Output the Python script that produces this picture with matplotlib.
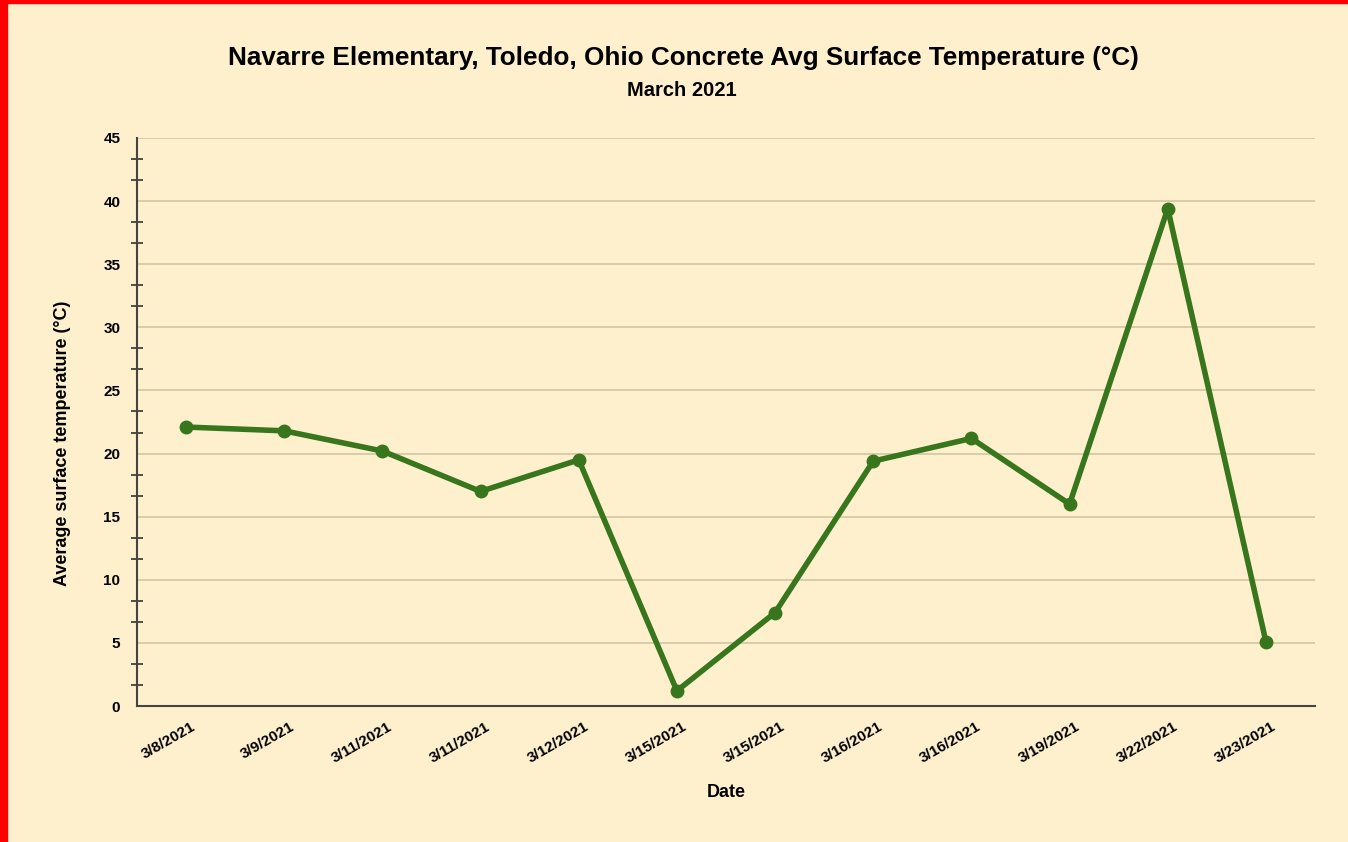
import numpy as np
import matplotlib.pyplot as plt
import matplotlib.transforms as mtransforms
from matplotlib.patches import Rectangle
from matplotlib.ticker import MultipleLocator

plt.rcParams['font.family'] = ['Liberation Sans', 'DejaVu Sans']

dates = ["3/8/2021", "3/9/2021", "3/11/2021", "3/11/2021", "3/12/2021", "3/15/2021",
         "3/15/2021", "3/16/2021", "3/16/2021", "3/19/2021", "3/22/2021", "3/23/2021"]
temps = [22.1, 21.8, 20.2, 17.0, 19.5, 1.2, 7.4, 19.4, 21.2, 16.0, 39.4, 5.1]

bg = '#fff0cd'
green = '#38761d'

fig = plt.figure(figsize=(13.48, 8.42), dpi=100, facecolor=bg)
ax = fig.add_axes([137/1348, 1 - 706/842, (1315-137)/1348, (706-138)/842])
ax.set_facecolor(bg)

x = np.arange(len(dates))
ax.plot(x, temps, color=green, linewidth=4, marker='o', markersize=9, zorder=3)

ax.set_xlim(-0.5, len(dates) - 0.5)
ax.set_ylim(0, 45)
ax.yaxis.set_major_locator(MultipleLocator(5))
ax.yaxis.set_minor_locator(MultipleLocator(5/3))
ax.grid(axis='y', which='major', color='#d6c9a6', linewidth=1.3)
ax.set_axisbelow(True)

ax.set_xticks(x)
ax.set_xticklabels(dates, rotation=30, ha='right', rotation_mode='anchor',
                   fontsize=11, fontweight='bold')
ax.tick_params(axis='x', length=0, pad=10)
ax.tick_params(axis='y', which='major', length=0, pad=12, labelsize=11)
ax.tick_params(axis='y', which='minor', length=8, direction='inout', width=1.2, color='#333333')
for lbl in ax.get_yticklabels():
    lbl.set_fontweight('bold')

# nudge x tick labels a little to the right
shift = mtransforms.ScaledTranslation(5/100, 0, fig.dpi_scale_trans)
for lbl in ax.get_xticklabels():
    lbl.set_transform(lbl.get_transform() + shift)

for s in ['top', 'right']:
    ax.spines[s].set_visible(False)
for s in ['left', 'bottom']:
    ax.spines[s].set_color('#444444')
    ax.spines[s].set_linewidth(1.5)

ax.set_xlabel("Date", fontsize=13, fontweight='bold', labelpad=13)
ax.set_ylabel("Average surface temperature (°C)", fontsize=13, fontweight='bold')
ax.yaxis.set_label_coords(-0.0557, 0.463)

fig.text(683/1348, 1 - 58/842, "Navarre Elementary, Toledo, Ohio Concrete Avg Surface Temperature (°C)",
         ha='center', va='center', fontsize=18.8, fontweight='bold')
fig.text(682/1348, 1 - 91/842, "March 2021", ha='center', va='center',
         fontsize=14.5, fontweight='bold')

# red frame at left and top
fig.patches.append(Rectangle((0, 0), 7/1348, 1, transform=fig.transFigure,
                             color='#ff0000', zorder=10))
fig.patches.append(Rectangle((0, 1 - 3/842), 1, 3/842, transform=fig.transFigure,
                             color='#ff0000', zorder=10))

fig.savefig("out.png", dpi=100, facecolor=bg)
